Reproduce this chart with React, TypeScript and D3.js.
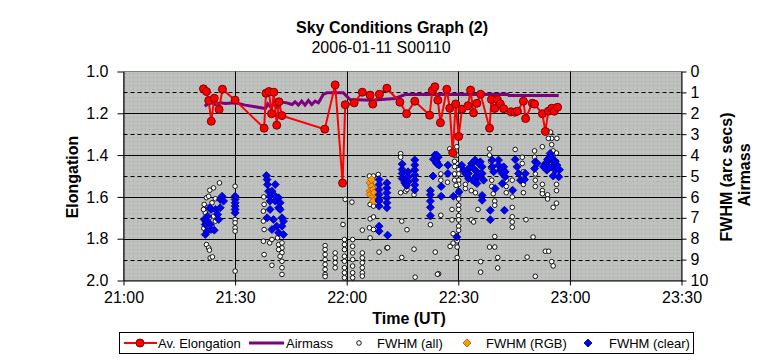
import React, { useEffect, useRef } from "react";
import * as d3 from "d3";

const chartTitle = "Sky Conditions Graph (2)";
const chartSubtitle = "2006-01-11 S00110";

// times are minutes after 21:00 UT
const elongMin = [21.5, 22.3, 22.9, 23.6, 24.4, 25.7, 26.6, 30.0, 37.8, 38.3, 39.1, 39.8, 40.4, 41.2, 41.8, 42.6, 54.1, 56.9, 58.9, 59.6, 62.0, 64.2, 66.3, 67.0, 68.8, 70.8, 74.3, 76.1, 78.3, 82.3, 83.0, 83.7, 84.5, 85.2, 86.9, 87.7, 88.5, 89.3, 90.1, 91.0, 92.6, 93.3, 94.1, 95.0, 96.0, 98.4, 98.9, 99.8, 100.5, 101.3, 102.2, 104.2, 105.2, 105.9, 107.5, 108.1, 109.9, 110.5, 112.6, 113.4, 114.2, 115.1, 115.8, 116.7];
const elongVal = [1.083, 1.096, 1.139, 1.238, 1.128, 1.182, 1.085, 1.137, 1.271, 1.104, 1.096, 1.202, 1.099, 1.257, 1.145, 1.211, 1.276, 1.064, 1.534, 1.159, 1.15, 1.099, 1.113, 1.156, 1.109, 1.08, 1.147, 1.202, 1.142, 1.209, 1.091, 1.073, 1.137, 1.245, 1.085, 1.176, 1.389, 1.155, 1.311, 1.18, 1.164, 1.089, 1.198, 1.152, 1.109, 1.271, 1.134, 1.177, 1.135, 1.155, 1.178, 1.193, 1.195, 1.19, 1.142, 1.225, 1.152, 1.156, 1.202, 1.287, 1.19, 1.176, 1.19, 1.171];

const airmassMin = [21.8, 22.9, 23.8, 24.7, 26.0, 27.4, 30.1, 32.7, 35.4, 38.1, 38.8, 39.7, 40.4, 41.2, 42.1, 43.9, 45.3, 46.1, 47.0, 47.9, 48.8, 49.7, 50.6, 51.5, 52.4, 53.7, 54.7, 59.1, 60.9, 66.7, 69.4, 73.0, 75.7, 103.3, 103.6, 117.0];
const airmassVal = [1.66, 1.53, 1.5, 1.58, 1.5, 1.53, 1.5, 1.61, 1.69, 1.77, 1.55, 1.74, 1.5, 1.71, 1.45, 1.5, 1.58, 1.45, 1.61, 1.42, 1.61, 1.39, 1.58, 1.42, 1.5, 1.1, 1.02, 1.02, 1.34, 1.37, 1.34, 1.29, 1.1, 1.09, 1.15, 1.15];

// [minutes, arc secs]
const fwhmAll = [
  [25.8, 5.33], [24.2, 5.57], [23.2, 5.68], [22.3, 6.04], [21.7, 6.36], [23.8, 6.28], [24.7, 6.09], [22.0, 6.76], [24.2, 6.92], [24.7, 7.16], [23.8, 7.4], [22.3, 8.28], [22.9, 8.44], [23.1, 8.55], [23.3, 8.92], [23.9, 8.87], [21.5, 6.6], [22.9, 5.97], [22.6, 6.5], [21.9, 7.2], [23.0, 7.0], [21.6, 7.5],
  [30.0, 5.49], [30.0, 7.08], [30.0, 7.24], [30.0, 7.48], [30.0, 7.64], [30.0, 9.55],
  [37.8, 6.36], [37.6, 6.68], [37.6, 7.16], [37.8, 7.56], [39.3, 8.2], [39.9, 8.04], [37.6, 8.12], [37.8, 8.76], [41.4, 7.96], [41.7, 8.28], [42.6, 8.2], [42.6, 8.44], [42.6, 8.67], [42.1, 8.84], [42.6, 9.08], [42.6, 9.39], [42.6, 9.71], [39.9, 9.27], [41.7, 8.52], [37.7, 6.0],
  [59.6, 6.12], [61.4, 6.25], [59.0, 7.32],
  [54.2, 8.33], [54.2, 8.52], [54.2, 8.76], [54.2, 9.0], [54.2, 9.23], [54.2, 9.47], [54.2, 9.71], [54.2, 9.81],
  [56.9, 8.68], [56.9, 8.92], [56.9, 9.15], [56.9, 9.39],
  [59.4, 8.04], [59.4, 8.28], [59.4, 8.52], [59.4, 8.84], [59.4, 9.08], [59.4, 9.39], [59.4, 9.63], [59.4, 9.87],
  [61.6, 8.04], [61.6, 8.36], [61.6, 8.68], [61.6, 9.0], [61.6, 9.31], [61.6, 9.63], [61.6, 9.87],
  [64.2, 8.68], [64.2, 8.92], [64.2, 9.15], [64.2, 9.39], [64.2, 9.63], [64.2, 9.79],
  [66.1, 5.0], [67.2, 5.0], [68.5, 4.93], [66.3, 6.36], [67.2, 6.44], [66.3, 7.05], [67.2, 6.96], [64.2, 7.59], [66.1, 7.48], [67.2, 7.56], [66.3, 7.96], [68.7, 8.64], [70.8, 8.44],
  [74.5, 3.93], [74.5, 4.1], [74.5, 5.8], [75.8, 5.73], [76.2, 5.65], [74.8, 7.16], [76.2, 7.57], [71.0, 8.43], [74.8, 8.9], [78.1, 8.5], [78.4, 9.84], [76.2, 4.9], [76.2, 5.5], [78.1, 4.7], [78.1, 5.9],
  [89.6, 3.6], [89.6, 4.0], [89.6, 4.4], [90.1, 4.7], [90.1, 4.9], [90.1, 5.2], [90.1, 5.4], [90.1, 5.7], [90.1, 5.9], [90.1, 6.1], [90.1, 6.4], [90.1, 6.6], [90.1, 6.9], [90.1, 7.1], [90.1, 7.4], [90.1, 7.6],
  [87.7, 3.7], [89.0, 4.0], [89.0, 4.3], [89.0, 4.55], [89.0, 4.9], [89.0, 5.2], [89.4, 5.45],
  [85.3, 4.9], [85.3, 5.2], [85.3, 5.5], [87.1, 5.3], [88.3, 6.6], [88.3, 7.1], [82.5, 7.33], [82.5, 6.96], [85.3, 6.88], [88.6, 7.76], [83.8, 8.64], [84.7, 9.68], [87.8, 8.37], [88.6, 8.21], [84.4, 9.7],
  [89.7, 8.1], [89.7, 8.4], [89.7, 8.9],
  [91.9, 5.6], [91.9, 5.4], [93.5, 5.7], [94.6, 5.8], [93.5, 7.1], [94.1, 7.2], [95.3, 6.6],
  [98.4, 3.7], [98.4, 4.0], [98.7, 4.3], [98.7, 4.6], [99.0, 5.2], [99.0, 5.5], [99.4, 5.85], [99.8, 6.2], [99.8, 6.4],
  [99.8, 7.9], [98.4, 8.4], [99.8, 8.4], [100.6, 8.9], [96.0, 9.1], [100.6, 9.4], [96.0, 9.6],
  [102.9, 5.2], [102.9, 5.5], [102.9, 5.8], [104.5, 5.2], [104.5, 6.0], [104.5, 6.5], [104.5, 6.95], [104.5, 7.2], [104.5, 7.45],
  [105.3, 3.73], [107.2, 4.1], [107.2, 4.4], [107.5, 4.8], [107.5, 5.1], [107.5, 5.4], [107.5, 5.8], [108.2, 7.09], [108.5, 8.88],
  [110.5, 3.8], [110.5, 4.1], [110.7, 4.9], [110.7, 5.2], [110.7, 5.5], [110.1, 7.92], [110.7, 9.8],
  [112.6, 3.6], [112.6, 5.4], [112.6, 5.7], [112.6, 5.85],
  [115.1, 3.2], [115.1, 3.5], [114.8, 2.9], [114.2, 3.2], [116.5, 3.2], [115.5, 3.8], [115.5, 4.1], [116.4, 3.9], [116.4, 4.3], [116.4, 5.4], [116.4, 5.7], [114.0, 5.9], [114.0, 6.1],
  [113.4, 8.6], [114.3, 8.6], [115.1, 9.1], [115.5, 9.3], [115.5, 6.5], [116.4, 6.3],
];

const fwhmRgb = [
  [66.3, 5.33], [66.7, 5.49], [66.3, 5.73], [67.2, 5.65], [66.3, 5.89], [67.2, 5.97], [67.2, 6.2], [66.7, 5.17], [67.4, 5.8],
];

const fwhmClear = [
  [22.0, 7.8], [22.5, 7.64], [23.5, 7.56], [24.4, 7.59], [22.0, 7.32], [23.3, 7.32], [21.7, 7.08], [22.6, 6.92], [25.6, 7.08], [23.5, 6.6], [24.7, 6.6], [26.0, 6.52], [23.2, 6.52], [26.0, 6.12], [26.5, 5.97], [26.9, 6.2], [25.3, 6.84], [22.5, 7.16],
  [30.0, 5.97], [30.0, 6.12], [30.0, 6.28], [30.0, 6.44], [30.0, 6.6], [30.0, 6.76],
  [38.4, 4.98], [38.6, 5.17], [38.7, 5.41], [40.8, 5.41], [39.0, 5.73], [39.9, 5.73], [39.4, 5.97], [40.8, 5.97], [41.7, 6.04], [39.4, 6.2], [40.8, 6.2], [42.1, 6.28], [39.4, 6.6], [41.7, 6.52], [38.6, 7.0], [40.3, 7.08], [42.6, 7.0], [39.9, 7.56], [41.2, 7.4], [42.6, 7.4], [41.7, 7.72], [43.0, 7.8], [42.1, 6.6], [43.0, 7.16],
  [68.7, 5.17], [68.7, 5.41], [68.7, 5.65], [68.7, 5.89], [68.7, 6.12], [68.7, 6.44], [68.7, 6.2], [70.8, 5.33], [70.8, 5.57], [70.8, 5.8], [70.8, 6.04], [70.8, 6.28], [70.8, 6.52], [68.7, 7.4], [68.7, 7.64], [71.0, 7.83],
  [74.9, 4.43], [74.9, 4.69], [74.9, 4.88], [74.9, 5.12], [75.6, 5.33], [76.5, 4.8], [76.5, 5.04], [76.5, 5.28], [76.1, 5.45],
  [78.3, 4.23], [78.3, 4.47], [78.3, 4.71], [78.3, 4.95], [78.3, 5.19], [78.3, 5.43], [78.3, 5.67],
  [82.5, 5.7], [82.5, 5.9], [82.5, 6.2], [82.5, 6.5], [82.5, 6.9], [83.3, 4.2], [83.7, 4.0], [84.2, 4.4], [84.6, 4.1], [83.2, 5.0],
  [84.2, 4.0], [84.2, 4.32], [84.8, 4.48], [87.2, 4.48], [87.2, 4.88], [85.4, 5.5], [85.4, 5.97], [88.7, 5.97], [90.2, 5.76], [89.6, 7.92],
  [90.9, 4.48], [91.4, 4.72], [92.7, 5.12], [92.7, 4.88], [93.6, 4.4], [94.1, 4.64], [94.5, 4.24], [95.0, 4.8], [95.4, 5.04], [94.5, 5.28], [95.9, 4.32], [96.4, 4.56], [96.4, 4.88], [96.8, 5.2], [95.0, 5.36], [96.4, 5.93], [96.4, 6.16],
  [93.0, 4.6], [94.8, 5.0], [96.0, 4.9], [92.0, 4.9], [95.5, 4.4], [93.8, 5.2],
  [98.6, 6.64], [98.6, 7.09], [99.9, 5.6], [99.1, 4.24], [99.1, 4.56], [99.5, 4.8],
  [100.8, 4.24], [100.8, 4.48], [101.3, 4.72], [101.8, 4.88], [102.2, 4.56], [102.6, 4.8], [102.6, 5.04], [101.8, 5.36], [102.4, 6.64], [104.6, 5.68],
  [105.3, 4.21], [105.8, 4.56], [106.2, 4.88], [106.7, 5.2], [107.8, 5.17], [108.0, 4.88],
  [110.7, 4.32], [110.5, 4.64], [111.2, 4.4],
  [113.4, 4.4], [114.3, 4.24], [114.7, 3.92], [115.2, 4.56], [115.6, 4.32], [116.1, 4.72], [116.5, 4.48], [117.0, 5.04], [113.8, 4.72], [112.9, 4.56],
  [114.0, 4.2], [115.0, 4.1], [116.0, 4.3], [114.5, 4.6], [117.2, 4.7], [115.5, 5.0],
];

const elongTicks = [1.0, 1.2, 1.4, 1.6, 1.8, 2.0];
const rightTicks = [0, 1, 2, 3, 4, 5, 6, 7, 8, 9, 10];

const base = Date.UTC(2006, 0, 11, 21, 0);
const toDate = (m: number) => new Date(base + m * 60000);
const font = "'Liberation Sans', Arial, sans-serif";

const diamond = (s: number) => `M0,${-s}L${s},0L0,${s}L${-s},0Z`;

const App = () => {
  const svgRef = useRef<SVGSVGElement>(null);

  useEffect(() => {
    const svg = d3.select(svgRef.current);
    svg.selectAll("*").remove();

    const left = 123.5, right = 681.5, top = 71.5, bottom = 280.5;

    const x = d3.scaleUtc().domain([toDate(0), toDate(150)]).range([left, right]);
    const yE = d3.scaleLinear().domain([1, 2]).range([top, bottom]);
    const yR = d3.scaleLinear().domain([0, 10]).range([top, bottom]);

    const defs = svg.append("defs");
    const pat = defs
      .append("pattern")
      .attr("id", "dots")
      .attr("width", 4)
      .attr("height", 4)
      .attr("patternUnits", "userSpaceOnUse");
    pat.append("rect").attr("width", 4).attr("height", 4).attr("fill", "#c0c0c0");
    pat.append("rect").attr("x", 1).attr("y", 1).attr("width", 1).attr("height", 1).attr("fill", "#8fb88f");

    // plot area
    svg
      .append("rect")
      .attr("x", left)
      .attr("y", top)
      .attr("width", right - left)
      .attr("height", bottom - top)
      .attr("fill", "url(#dots)")
      .attr("stroke", "#808080");

    // horizontal grid
    const grid = svg.append("g");
    rightTicks.slice(1, -1).forEach((v) => {
      grid
        .append("line")
        .attr("x1", left)
        .attr("x2", right)
        .attr("y1", Math.round(yR(v)) + 0.5)
        .attr("y2", Math.round(yR(v)) + 0.5)
        .attr("stroke", "#000")
        .attr("stroke-dasharray", v % 2 === 1 ? "4,3" : null);
    });
    // vertical grid
    x.ticks(d3.utcMinute.every(30)).slice(1, -1).forEach((d) => {
      grid
        .append("line")
        .attr("x1", Math.round(x(d)) + 0.5)
        .attr("x2", Math.round(x(d)) + 0.5)
        .attr("y1", top)
        .attr("y2", bottom)
        .attr("stroke", "#000");
    });

    // FWHM (all)
    svg
      .append("g")
      .selectAll("circle")
      .data(fwhmAll)
      .enter()
      .append("circle")
      .attr("cx", (d) => x(toDate(d[0])))
      .attr("cy", (d) => yR(d[1]))
      .attr("r", 2.3)
      .attr("fill", "#fff")
      .attr("stroke", "#000")
      .attr("stroke-width", 0.9);

    // FWHM (RGB)
    svg
      .append("g")
      .selectAll("path")
      .data(fwhmRgb)
      .enter()
      .append("path")
      .attr("d", diamond(4))
      .attr("transform", (d) => `translate(${x(toDate(d[0]))},${yR(d[1])})`)
      .attr("fill", "#ff9900")
      .attr("stroke", "#a05a00")
      .attr("stroke-width", 0.8);

    // FWHM (clear)
    svg
      .append("g")
      .selectAll("path")
      .data(fwhmClear)
      .enter()
      .append("path")
      .attr("d", diamond(4))
      .attr("transform", (d) => `translate(${x(toDate(d[0]))},${yR(d[1])})`)
      .attr("fill", "#0000ff")
      .attr("stroke", "#000080")
      .attr("stroke-width", 0.8);

    // Airmass
    const amLine = d3
      .line<number>()
      .x((d, i) => x(toDate(airmassMin[i])))
      .y((d) => yR(d));
    svg
      .append("path")
      .attr("d", amLine(airmassVal))
      .attr("fill", "none")
      .attr("stroke", "#800080")
      .attr("stroke-width", 3);

    // Av. Elongation
    const elLine = d3
      .line<number>()
      .x((d, i) => x(toDate(elongMin[i])))
      .y((d) => yE(d));
    svg
      .append("path")
      .attr("d", elLine(elongVal))
      .attr("fill", "none")
      .attr("stroke", "#ff0000")
      .attr("stroke-width", 2);
    svg
      .append("g")
      .selectAll("circle")
      .data(elongVal)
      .enter()
      .append("circle")
      .attr("cx", (d, i) => x(toDate(elongMin[i])))
      .attr("cy", (d) => yE(d))
      .attr("r", 4)
      .attr("fill", "#ff0000")
      .attr("stroke", "#800000")
      .attr("stroke-width", 1);

    // axes
    const styleAxis = (g) => {
      g.attr("font-family", font).attr("font-size", 16);
      g.select(".domain").attr("stroke", "#000");
      g.selectAll("line").attr("stroke", "#000");
      g.selectAll("text").attr("fill", "#000");
    };
    svg
      .append("g")
      .attr("transform", `translate(${left},0)`)
      .call(d3.axisLeft(yE).tickValues(elongTicks).tickFormat(d3.format(".1f")).tickSizeInner(6).tickSizeOuter(0).tickPadding(9))
      .call(styleAxis);
    svg
      .append("g")
      .attr("transform", `translate(${right},0)`)
      .call(d3.axisRight(yR).tickValues(rightTicks).tickFormat(d3.format("d")).tickSizeInner(5).tickSizeOuter(0).tickPadding(4))
      .call(styleAxis);
    svg
      .append("g")
      .attr("transform", `translate(0,${bottom})`)
      .call(d3.axisBottom(x).ticks(d3.utcMinute.every(30)).tickFormat(d3.utcFormat("%H:%M")).tickSizeInner(5).tickSizeOuter(0).tickPadding(6))
      .call(styleAxis);

    // titles
    const txt = (tx, ty, s, bold, rot = 0) =>
      svg
        .append("text")
        .attr("transform", `translate(${tx},${ty}) rotate(${rot})`)
        .attr("text-anchor", "middle")
        .attr("font-family", font)
        .attr("font-size", 16)
        .attr("font-weight", bold ? "bold" : "normal")
        .text(s);
    txt(392, 33, chartTitle, true);
    txt(381, 53, chartSubtitle, false);
    txt(78, 177, "Elongation", true, -90);
    txt(732, 177, "FWHM (arc secs)", true, -90);
    txt(750, 175, "Airmass", true, -90);
    txt(409, 324, "Time (UT)", true);

    // legend
    const lg = svg.append("g");
    const ly = 343;
    lg.append("rect").attr("x", 119.5).attr("y", 332.5).attr("width", 574).attr("height", 21).attr("fill", "#fff").attr("stroke", "#000");
    lg.append("line").attr("x1", 124).attr("x2", 157).attr("y1", ly).attr("y2", ly).attr("stroke", "#ff0000").attr("stroke-width", 2);
    lg.append("circle").attr("cx", 140).attr("cy", ly).attr("r", 4).attr("fill", "#ff0000").attr("stroke", "#800000");
    lg.append("line").attr("x1", 249).attr("x2", 284).attr("y1", ly).attr("y2", ly).attr("stroke", "#800080").attr("stroke-width", 3);
    lg.append("circle").attr("cx", 359).attr("cy", ly).attr("r", 2.3).attr("fill", "#fff").attr("stroke", "#000").attr("stroke-width", 0.9);
    lg.append("path").attr("d", diamond(4)).attr("transform", `translate(467,${ly})`).attr("fill", "#ff9900").attr("stroke", "#a05a00").attr("stroke-width", 0.8);
    lg.append("path").attr("d", diamond(4)).attr("transform", `translate(588,${ly})`).attr("fill", "#0000ff").attr("stroke", "#000080").attr("stroke-width", 0.8);
    const items = [
      ["Av. Elongation", 158],
      ["Airmass", 286],
      ["FWHM (all)", 377],
      ["FWHM (RGB)", 486],
      ["FWHM (clear)", 609],
    ];
    items.forEach(([s, lx]) => {
      lg.append("text").attr("x", lx).attr("y", ly + 4.5).attr("font-family", font).attr("font-size", 13).text(s);
    });
  }, []);

  return (
    <svg
      ref={svgRef}
      width={765}
      height={360}
      style={{ position: "absolute", left: 0, top: 0, background: "#fff" }}
    ></svg>
  );
};

export default App;
